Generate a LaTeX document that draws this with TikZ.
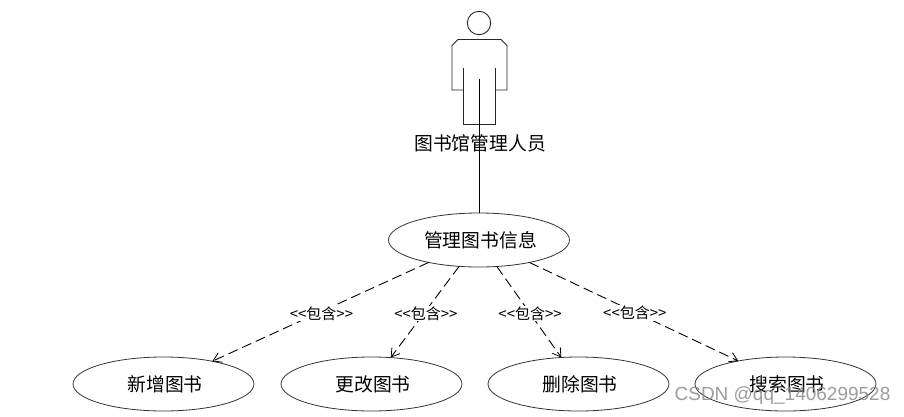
\documentclass[tikz,border=0pt]{standalone}
\usepackage{fontspec}
\usepackage{tikz}
\usetikzlibrary{shapes.geometric,arrows.meta}
\newfontfamily\cjk{Noto Sans CJK SC}
\setmainfont{Liberation Sans}
\tikzset{
  usecase/.style={draw=black!80,ellipse,line width=0.8pt,inner sep=0pt,outer sep=0pt,minimum width=181pt,minimum height=54pt,font=\cjk\fontsize{18.8}{20}\selectfont},
  actorline/.style={draw=black!85,line width=0.9pt},
  includes/.style={draw=black,line width=0.9pt,dash pattern=on 10pt off 5pt,-{Straight Barb[length=8pt,width=10pt,line width=0.8pt]}},
  steplabel/.style={fill=white,inner sep=1pt,yshift=-1.5pt,xshift=1pt,font=\cjk\fontsize{15}{16}\selectfont},
}
\newcommand{\casetext}[1]{\hspace*{3pt}#1}
\begin{document}
\begin{tikzpicture}[x=1pt,y=-1pt]
\useasboundingbox (0,0) rectangle (904,416);
\fill[white] (0,0) rectangle (904,416);
% actor
\node[draw=black!85,circle,line width=0.9pt,minimum size=23.4pt,inner sep=0pt] (head) at (479,23) {};
\draw[actorline] (463,68) -- (463,124) -- (495,124) -- (495,68);
\draw[actorline] (463,90) -- (452,90) -- (452,45.5) -- (458,39.5) -- (501,39.5) -- (507,45.5) -- (507,90) -- (495,90);
\node[inner sep=0pt,font=\cjk\fontsize{18.8}{20}\selectfont] (actorname) at (480,143) {图书馆管理人员};
% use cases
\node[usecase] (main) at (479,240) {\casetext{管理图书信息}};
\node[usecase] (add) at (163.5,384) {\casetext{新增图书}};
\node[usecase] (edit) at (371.5,384) {\casetext{更改图书}};
\node[usecase] (del) at (578.5,384) {\casetext{删除图书}};
\node[usecase] (find) at (785.5,384) {\casetext{搜索图书}};
% connectors
\coordinate (actorbase) at (479,79);
\draw[line width=0.9pt] (actorbase) -- (main.north);
\draw[includes] (main.204) -- node[steplabel] {<<包含>>} (add.25);
\draw[includes] (main.233) -- node[steplabel] {<<包含>>} (edit.54);
\draw[includes] (main.304) -- node[steplabel] {<<包含>>} (del.123);
\draw[includes] (main.336) -- node[steplabel] {<<包含>>} (find.154);
% watermark
\node[inner sep=0pt,text=black!45,opacity=0.85,font=\fontsize{19}{20}\selectfont] (mark) at (782.5,396) {CSDN @qq\_1406299528};
\end{tikzpicture}
\end{document}
